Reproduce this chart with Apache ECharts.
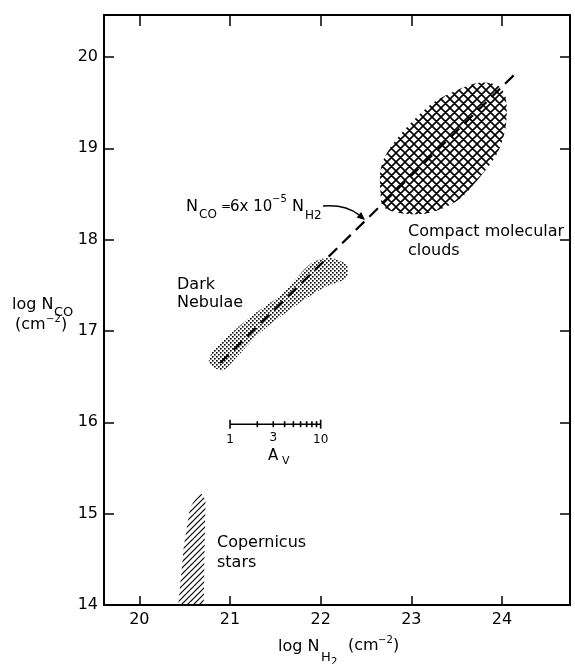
<!DOCTYPE html>
<html><head><meta charset="utf-8">
<script src="https://cdn.jsdelivr.net/npm/echarts@6/dist/echarts.min.js"></script>
<style>html,body{margin:0;padding:0;background:#fff}#c{width:575px;height:664px}</style>
</head><body><div id="c"></div>
<script>
// ---- data ----
const xTicks = [20, 21, 22, 23, 24];
const yTicks = [14, 15, 16, 17, 18, 19, 20];
// N_CO = 6e-5 N_H2 relation (dashed line end points)
const relationLine = [[20.89, 16.65], [24.16, 19.83]];
// Dark Nebulae (stippled region) outline
const darkNebulae = [[20.77,16.65],[20.82,16.79],[21.22,17.15],[21.59,17.42],[21.89,17.74],[22.11,17.80],[22.29,17.72],[22.28,17.58],[22.03,17.47],[21.70,17.26],[21.33,16.98],[21.08,16.72],[20.92,16.57]];
// Compact molecular clouds (cross-hatched region) outline
const compactClouds = [[23.95,19.69],[24.04,19.56],[24.04,19.23],[23.95,18.95],[23.76,18.69],[23.51,18.43],[23.18,18.29],[22.88,18.29],[22.69,18.36],[22.66,18.51],[22.66,18.76],[22.73,18.95],[22.95,19.23],[23.24,19.50],[23.51,19.64],[23.76,19.72]];
// Copernicus stars (hatched region) outline
const copernicusStars = [[20.67,15.24],[20.56,15.07],[20.49,14.64],[20.43,14.0],[20.71,14.0],[20.72,14.64],[20.73,15.15]];
// A_V scale
const avValues = [1, 2, 3, 4, 5, 6, 7, 8, 9, 10];
const avLabels = [1, 3, 10];
const avZeroLogNH2 = 21.0;   // A_V = 1 at log N_H2 = 21
const avRowLogNCO = 15.98;

const FONT = 'DejaVu Sans';

function makePattern(kind) {
  const c = document.createElement('canvas');
  const ctx = c.getContext('2d');
  let s;
  if (kind === 'dots') {
    s = 4; c.width = c.height = s;
    ctx.fillStyle = '#000';
    ctx.fillRect(0, 0, 1.6, 1.6);
    ctx.fillRect(2, 2, 1.6, 1.6);
    return c;
  }
  s = kind === 'cross' ? 9 : 6;
  c.width = c.height = s;
  ctx.strokeStyle = '#000';
  ctx.lineWidth = kind === 'cross' ? 1.6 : 1.2;
  ctx.beginPath();
  for (let k = -1; k <= 1; k++) {
    ctx.moveTo(-2 + k * s, s + 2); ctx.lineTo(s + 2 + k * s, -2);
    if (kind === 'cross') {
      ctx.moveTo(-2 + k * s, -2); ctx.lineTo(s + 2 + k * s, s + 2);
    }
  }
  ctx.stroke();
  return c;
}

function polySeries(pts, kind, smooth) {
  const pat = { image: makePattern(kind), repeat: 'repeat' };
  return {
    type: 'custom', xAxisIndex: 0, yAxisIndex: 0, data: pts, z: 2, silent: true,
    encode: { x: 0, y: 1 },
    renderItem: function (params, api) {
      if (params.dataIndex !== 0) return null;
      const points = pts.map(p => api.coord(p));
      return { type: 'polygon', shape: { points: points, smooth: smooth }, style: { fill: pat, stroke: null } };
    }
  };
}

function T(text, x, baseline, fs, align) {
  return { type: 'text', x: x, y: baseline - 0.35 * fs, z: 100, silent: true,
    style: { text: text, fontSize: fs, fontFamily: FONT, fill: '#000', align: align || 'left', verticalAlign: 'middle' } };
}

const chart = echarts.init(document.getElementById('c'), null, { renderer: 'canvas' });

const axisCommon = {
  type: 'value', min: 19.61, max: 24.75, splitLine: { show: false },
  axisLine: { show: true, lineStyle: { color: '#000', width: 2 } }
};
const yCommon = {
  type: 'value', min: 14, max: 20.46, splitLine: { show: false },
  axisLine: { show: true, lineStyle: { color: '#000', width: 2 } }
};

const option = {
  animation: false,
  backgroundColor: '#fff',
  grid: { left: 104, right: 5, top: 15, bottom: 59 },
  xAxis: [
    Object.assign({}, axisCommon, {
      position: 'bottom',
      axisTick: { inside: true, length: 9, customValues: xTicks, lineStyle: { color: '#000', width: 1.5 } },
      axisLabel: { customValues: xTicks, fontSize: 16, fontFamily: FONT, color: '#000', margin: 7 }
    }),
    Object.assign({}, axisCommon, {
      position: 'top',
      axisTick: { inside: true, length: 11, customValues: xTicks, lineStyle: { color: '#000', width: 1.5 } },
      axisLabel: { show: false }
    })
  ],
  yAxis: [
    Object.assign({}, yCommon, {
      position: 'left',
      axisTick: { inside: true, length: 10, customValues: yTicks, lineStyle: { color: '#000', width: 1.5 } },
      axisLabel: { customValues: yTicks, fontSize: 16, fontFamily: FONT, color: '#000', margin: 6 }
    }),
    Object.assign({}, yCommon, {
      position: 'right',
      axisTick: { inside: true, length: 10, customValues: yTicks, lineStyle: { color: '#000', width: 1.5 } },
      axisLabel: { show: false }
    })
  ],
  series: [
    polySeries(darkNebulae, 'dots', 0.3),
    polySeries(compactClouds, 'cross', 0.3),
    polySeries(copernicusStars, 'hatch', 0),
    {
      type: 'line', xAxisIndex: 0, yAxisIndex: 0, data: relationLine, symbol: 'none', z: 5, silent: true,
      lineStyle: { color: '#000', width: 2.2, type: [12, 7] }
    },
    {
      type: 'line', xAxisIndex: 0, yAxisIndex: 0, z: 6, silent: true,
      symbol: 'rect',
      data: avValues.map(v => ({
        value: [avZeroLogNH2 + Math.log10(v), avRowLogNCO],
        symbolSize: (v === 1 || v === 10) ? [1.6, 9] : [1.6, 6],
        label: { show: avLabels.indexOf(v) >= 0, formatter: String(v) }
      })),
      itemStyle: { color: '#000' },
      lineStyle: { color: '#000', width: 1.5 },
      label: { position: 'bottom', distance: 5, fontSize: 12, fontFamily: FONT, color: '#000' }
    }
  ],
  graphic: [
    // y axis title
    T('log N', 12, 310, 16), T('CO', 54, 317, 13),
    T('(cm', 15, 330, 16), T('\u22122', 46, 323, 10), T(')', 61, 330, 16),
    // x axis title
    T('log N', 278, 652, 16), T('H', 321, 662, 13), T('2', 331, 666, 10),
    T('(cm', 348, 651, 16), T('\u22122', 378, 644, 10), T(')', 393, 651, 16),
    // equation
    T('N', 186, 212, 16), T('CO', 199, 219, 12), T('=', 221, 211, 12),
    T('6x 10', 230, 212, 15), T('\u22125', 272, 203, 10),
    T('N', 292, 212, 16), T('H2', 305, 220, 12),
    { type: 'bezierCurve', z: 100, silent: true,
      shape: { x1: 323, y1: 206, x2: 359, y2: 214.8, cpx1: 345, cpy1: 204 },
      style: { stroke: '#000', lineWidth: 1.5, fill: null } },
    { type: 'polygon', z: 100, silent: true,
      shape: { points: [[365, 220], [356.6, 217.5], [361.2, 212.1]] },
      style: { fill: '#000' } },
    // region labels
    T('Dark', 177, 290, 16), T('Nebulae', 177, 308, 16),
    T('Compact molecular', 408, 237, 16), T('clouds', 408, 256, 16),
    T('Copernicus', 217, 548, 16), T('stars', 217, 568, 16),
    // A_V label
    T('A', 268, 461, 15), T('V', 282, 465, 11)
  ]
};
chart.setOption(option);
</script>
</body></html>
